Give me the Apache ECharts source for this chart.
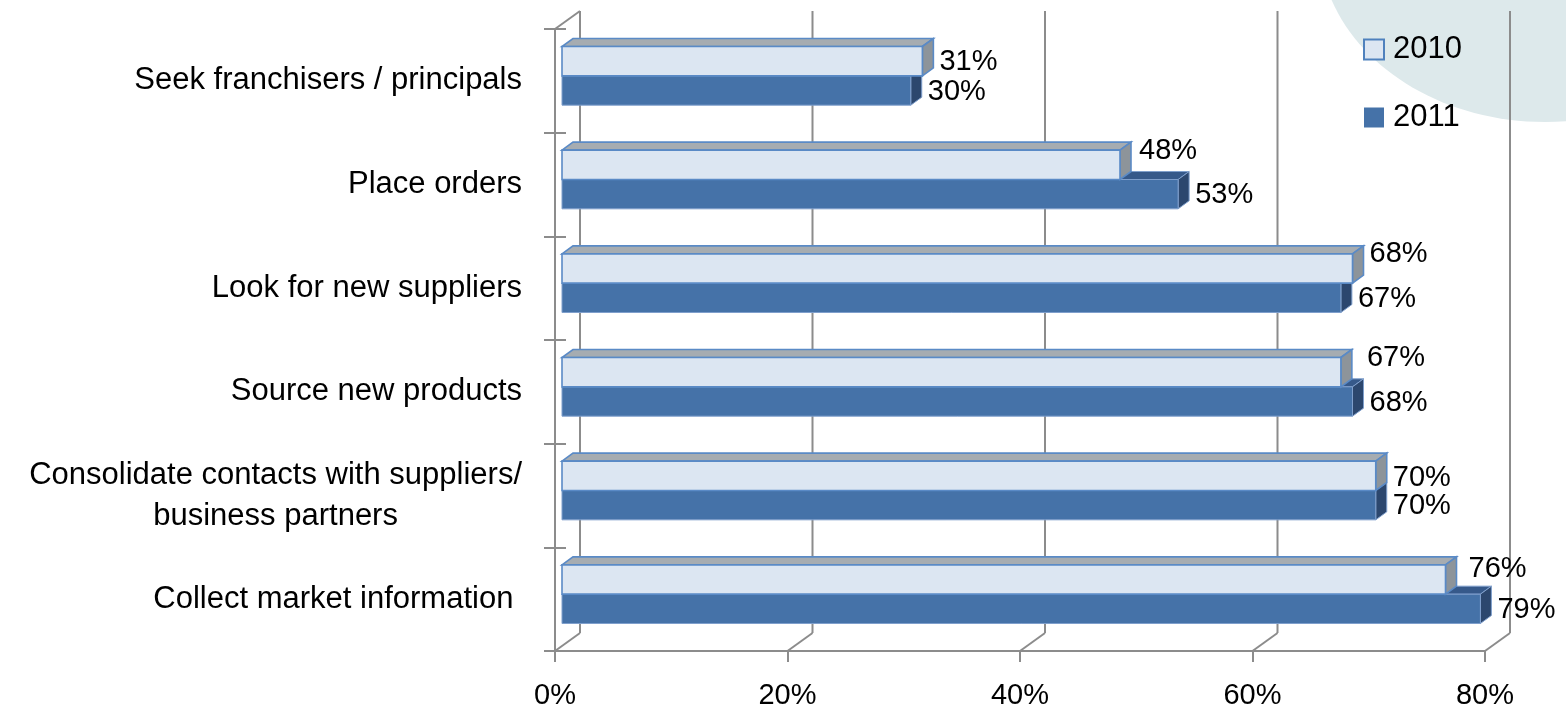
<!DOCTYPE html>
<html><head><meta charset="utf-8">
<script src="https://cdn.jsdelivr.net/npm/echarts@6/dist/echarts.min.js"></script>
<style>html,body{margin:0;padding:0;background:#fff}#c{width:1566px;height:721px}</style>
</head><body><div id="c"></div>
<script>
// ---- data ----
const categories = [
  'Seek franchisers / principals',
  'Place orders',
  'Look for new suppliers',
  'Source new products',
  'Consolidate contacts with suppliers/\nbusiness partners',
  'Collect market information '
];
const values2010 = [31, 48, 68, 67, 70, 76];
const values2011 = [30, 53, 67, 68, 70, 79];
const xTicks = [0, 20, 40, 60, 80];
const seriesNames = ['2010', '2011'];

// ---- style ----
const FONT = '"Liberation Sans", Arial, sans-serif';
const GRID_COLOR = '#8C8C8C';
const WALL = [25, -18];          // front plane -> back wall
const FRONT_OFF = [7, -5];       // front plane -> bar front face
const DEPTH = [11, -8];          // bar depth
const BAR_RATIO = 0.283;
const labelNudge2010 = [[0, 1], [2, -14], [0, -14], [9, -14], [0, 2], [6, -10]];
const labelNudge2011 = [[0, 1], [0, 1], [0, 1], [0, 1], [0, 1], [0, 1]];
const styles = [
  { front: '#DCE6F2', top: '#A6ACB1', side: '#8D949A', stroke: '#5A8AC6', lw: 1.6 },
  { front: '#4572A8', top: '#36598A', side: '#2C476E', stroke: '#7F9FCC', lw: 1 }
];

function barRender(sIdx, nudges) {
  return function (params, api) {
    const i = api.value(0), v = api.value(1);
    const p0 = api.coord([0, i]), pv = api.coord([v, i]);
    const band = api.size([0, 1])[1];
    const bh = band * BAR_RATIO;
    const x1 = p0[0] + FRONT_OFF[0], x2 = pv[0] + FRONT_OFF[0];
    const yT = (sIdx === 0 ? p0[1] - bh : p0[1]) + FRONT_OFF[1];
    const yB = yT + bh;
    const dx = DEPTH[0], dy = DEPTH[1];
    const st = styles[sIdx];
    const n = nudges[i];
    return {
      type: 'group',
      children: [
        { type: 'polygon', shape: { points: [[x1, yT], [x2, yT], [x2 + dx, yT + dy], [x1 + dx, yT + dy]] },
          style: { fill: st.top, stroke: st.stroke, lineWidth: st.lw } },
        { type: 'polygon', shape: { points: [[x2, yT], [x2 + dx, yT + dy], [x2 + dx, yB + dy], [x2, yB]] },
          style: { fill: st.side, stroke: st.stroke, lineWidth: st.lw } },
        { type: 'rect', shape: { x: x1, y: yT, width: x2 - x1, height: bh },
          style: { fill: st.front, stroke: st.stroke, lineWidth: st.lw } },
        { type: 'text', style: { text: v + '%', x: x2 + dx + 6 + n[0], y: (yT + yB) / 2 + n[1],
          fill: '#000', font: '29px ' + FONT, align: 'left', verticalAlign: 'middle' } }
      ]
    };
  };
}

function wallRender(params, api) {
  const v = api.value(0);
  const cs = params.coordSys;
  const x = api.coord([v, 0])[0];
  const top = cs.y, bot = cs.y + cs.height;
  const ls = { stroke: GRID_COLOR, lineWidth: 2 };
  const kids = [
    { type: 'line', shape: { x1: x + WALL[0], y1: top + WALL[1], x2: x + WALL[0], y2: bot + WALL[1] }, style: ls },
    { type: 'line', shape: { x1: x, y1: bot, x2: x + WALL[0], y2: bot + WALL[1] }, style: ls }
  ];
  if (v === xTicks[0]) {
    kids.push({ type: 'line', shape: { x1: x, y1: top, x2: x + WALL[0], y2: top + WALL[1] }, style: ls });
  }
  return { type: 'group', children: kids };
}

const chart = echarts.init(document.getElementById('c'), null, { renderer: 'canvas' });
chart.setOption({
  animation: false,
  backgroundColor: '#fff',
  graphic: [{ type: 'ellipse', z: -100, silent: true,
    shape: { cx: 1545, cy: -60, rx: 226, ry: 182 }, style: { fill: '#DDE9EB' } }],
  grid: { left: 555, right: 81, top: 29, bottom: 70 },
  legend: {
    orient: 'vertical', left: 1358, top: 29, itemWidth: 20, itemHeight: 20, itemGap: 37,
    textStyle: { fontSize: 31, fontFamily: FONT, color: '#000', padding: [3, 0, 0, 4] },
    data: [
      { name: '2010', icon: 'rect', itemStyle: { color: '#DCE6F2', borderColor: '#4F81BD', borderWidth: 2 } },
      { name: '2011', icon: 'rect', itemStyle: { color: '#4572A8', borderWidth: 0 } }
    ]
  },
  xAxis: {
    type: 'value', min: 0, max: 80, interval: 20,
    axisLine: { show: true, lineStyle: { color: GRID_COLOR, width: 2 } },
    axisTick: { show: true, length: 11, lineStyle: { color: GRID_COLOR, width: 2 } },
    splitLine: { show: false },
    axisLabel: { formatter: '{value}%', fontSize: 29, fontFamily: FONT, color: '#000', margin: 30 }
  },
  yAxis: [{
    type: 'category', inverse: true, data: categories,
    axisLine: { show: true, lineStyle: { color: GRID_COLOR, width: 2 } },
    axisTick: { show: true, length: 11, lineStyle: { color: GRID_COLOR, width: 2 } },
    axisLabel: {
      fontSize: 31, fontFamily: FONT, color: '#000', margin: 33, lineHeight: 41,
      formatter: function (v) {
        if (v.indexOf('\n') < 0) return v;
        return v.split('\n').map(function (l) { return '{c|' + l + '}'; }).join('\n');
      },
      rich: { c: { align: 'center', fontSize: 31, fontFamily: FONT, color: '#000', lineHeight: 41 } }
    }
  }, {
    type: 'category', inverse: true, data: categories, position: 'left',
    axisLine: { show: false },
    axisTick: { show: true, inside: true, length: 11, lineStyle: { color: GRID_COLOR, width: 2 } },
    axisLabel: { show: false }
  }],
  series: [
    { type: 'custom', name: 'walls', clip: false, z: 1, silent: true,
      data: xTicks.map(function (t) { return [t]; }), encode: { x: 0 }, renderItem: wallRender },
    { type: 'custom', name: seriesNames[1], clip: false, z: 3, itemStyle: { color: '#4572A8' },
      data: values2011.map(function (v, i) { return [i, v]; }), encode: { y: 0, x: 1 },
      renderItem: barRender(1, labelNudge2011) },
    { type: 'custom', name: seriesNames[0], clip: false, z: 4, itemStyle: { color: '#DCE6F2' },
      data: values2010.map(function (v, i) { return [i, v]; }), encode: { y: 0, x: 1 },
      renderItem: barRender(0, labelNudge2010) }
  ]
});
</script></body></html>
